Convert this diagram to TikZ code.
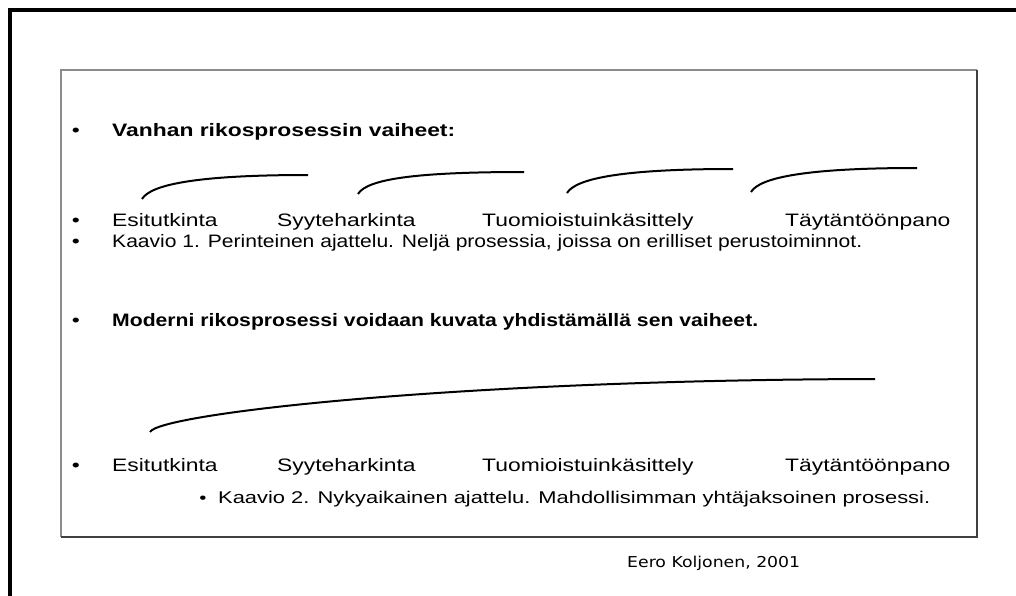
\documentclass[tikz,border=0pt]{standalone}
\usepackage{graphicx}
\usepackage{fontspec}
\setmainfont{Liberation Sans}
\newfontfamily\signfont{DejaVu Sans}
\usetikzlibrary{calc}
% slide text is set wide, as on a stretched slide
\newcommand{\wide}[1]{\scalebox{1.27}[1]{#1}}
% set a line to a given width, keeping its height
\newcommand{\fitto}[2]{\resizebox{#1}{\height}{#2}}
\tikzset{
  txt/.style={anchor=base west, inner sep=0pt, font=\fontsize{18}{20}\selectfont},
  dot/.style={anchor=base, inner sep=0pt, font=\fontsize{18}{20}\selectfont},
  bow/.style={line width=2pt},
  frame/.style={line width=4pt},
}
\newcommand{\bowline}[2]{\draw[bow] (#1) .. controls ($(#1)+(9,-15)$) and ($(#2)+(-108,0)$) .. (#2);}
\begin{document}
\begin{tikzpicture}[x=1pt,y=-1pt]
\useasboundingbox (0,0) rectangle (1016,596);
% outer frame (left and top edges)
\draw[frame] (10,596) -- (10,10) -- (1016,10);
% slide panel
\draw[line width=1.6pt, black!45] (61,537) -- (61,70) -- (977,70);
\draw[line width=1.6pt, black!75] (977,70) -- (977,537) -- (61,537);

% first heading
\node[dot] (d1) at (76,137) {\wide{•}};
\node[txt] (h1) at (112,137) {\wide{\bfseries Vanhan rikosprosessin vaiheet:}};

% separate stages
\coordinate (a1s) at (142,199); \coordinate (a1e) at (308,175);
\coordinate (a2s) at (358,194); \coordinate (a2e) at (524,172);
\coordinate (a3s) at (567,193); \coordinate (a3e) at (733,169);
\coordinate (a4s) at (751,192); \coordinate (a4e) at (917,168);
\bowline{a1s}{a1e}
\bowline{a2s}{a2e}
\bowline{a3s}{a3e}
\bowline{a4s}{a4e}

\node[dot] (d2) at (76,226) {\wide{•}};
\node[txt] (s1) at (112,226) {\wide{Esitutkinta}};
\node[txt] (s2) at (277,226) {\wide{Syyteharkinta}};
\node[txt] (s3) at (482,226) {\wide{Tuomioistuinkäsittely}};
\node[txt] (s4) at (785,226) {\wide{Täytäntöönpano}};

\node[dot] (d3) at (76,247) {\wide{•}};
\node[txt] (k1) at (112,247) {\fitto{750pt}{Kaavio 1. Perinteinen ajattelu. Neljä prosessia, joissa on erilliset perustoiminnot.}};

% second heading
\node[dot] (d4) at (76,326) {\wide{•}};
\node[txt] (h2) at (112,326) {\fitto{646pt}{\bfseries Moderni rikosprosessi voidaan kuvata yhdistämällä sen vaiheet.}};

% one continuous process
\coordinate (bs) at (150,432); \coordinate (be) at (875,379);
\draw[bow] (bs) .. controls (159,414) and (450,380) .. (be);

\node[dot] (d5) at (76,471) {\wide{•}};
\node[txt] (t1) at (112,471) {\wide{Esitutkinta}};
\node[txt] (t2) at (277,471) {\wide{Syyteharkinta}};
\node[txt] (t3) at (482,471) {\wide{Tuomioistuinkäsittely}};
\node[txt] (t4) at (785,471) {\wide{Täytäntöönpano}};

\node[dot, font=\fontsize{16}{18}\selectfont] (d6) at (203,503) {\wide{•}};
\node[txt, font=\fontsize{17}{19}\selectfont] (k2) at (218,503) {\fitto{712pt}{Kaavio 2. Nykyaikainen ajattelu. Mahdollisimman yhtäjaksoinen prosessi.}};

\node[txt, font=\signfont\fontsize{15}{17}\selectfont] (sig) at (627,567) {\fitto{173pt}{Eero Koljonen, 2001}};
\end{tikzpicture}
\end{document}
